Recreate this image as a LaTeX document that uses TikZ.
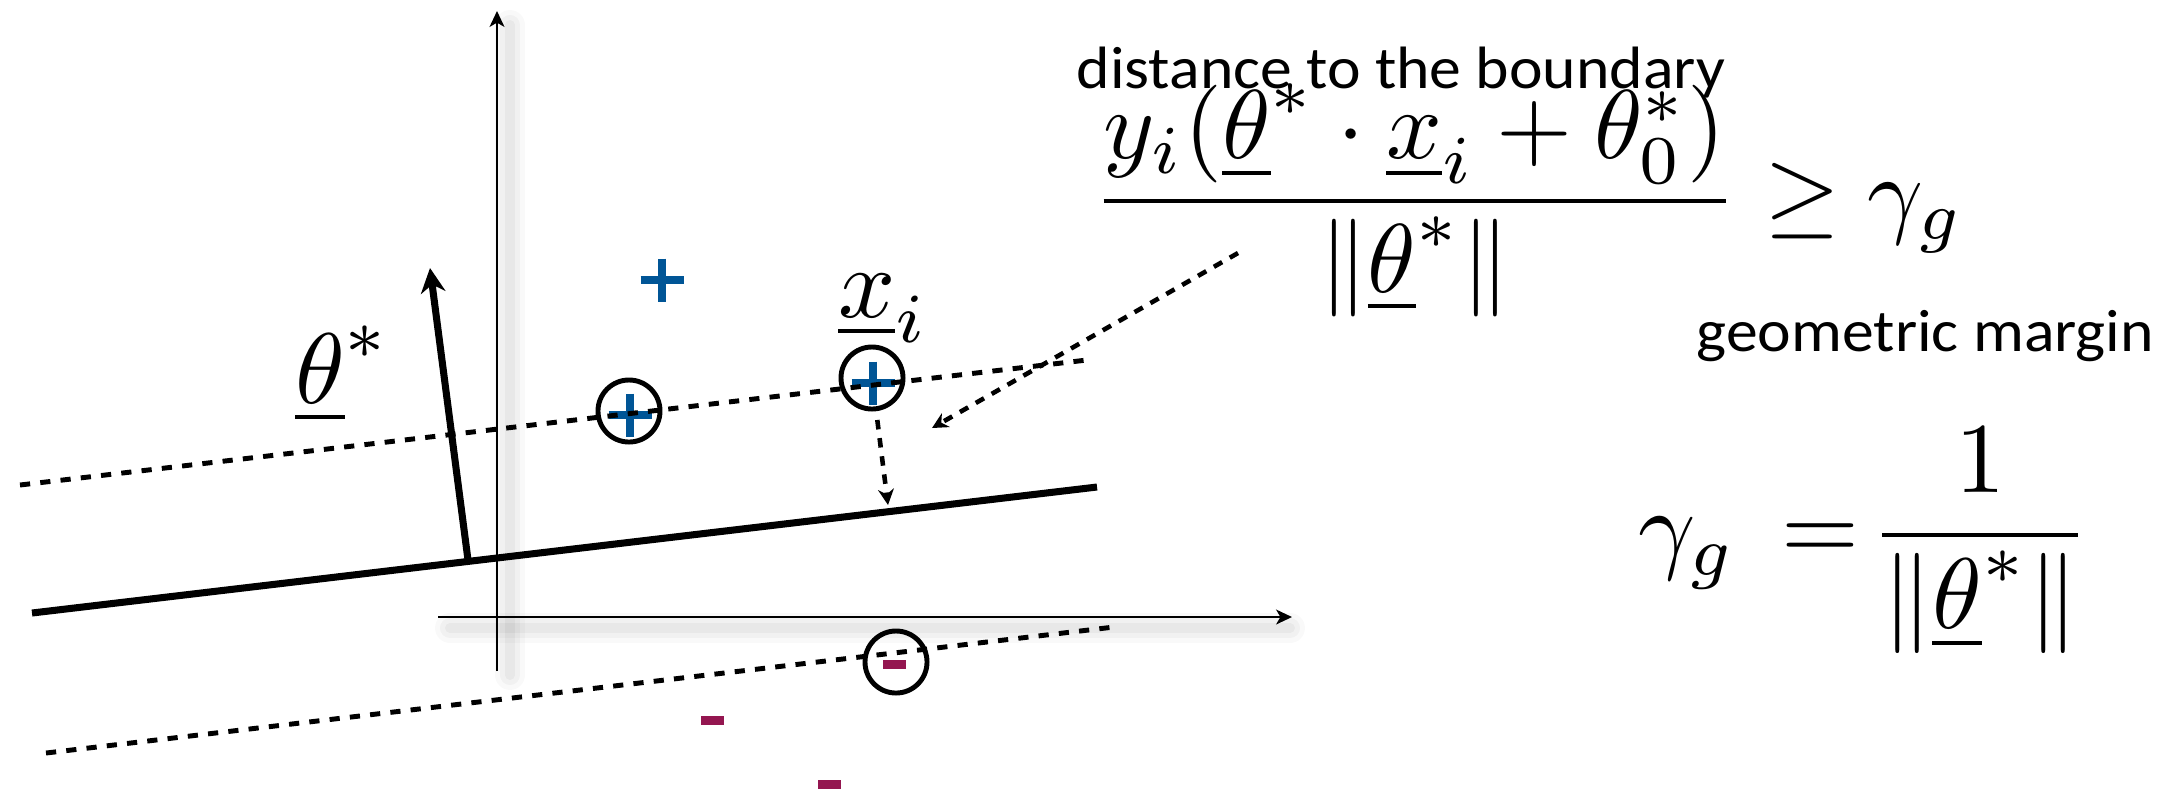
\documentclass[tikz,border=0pt]{standalone}
\usepackage{fontspec}
\newfontfamily\capfont{Carlito}
\usetikzlibrary{arrows.meta}
\definecolor{plusblue}{RGB}{0,85,150}
\definecolor{minusred}{RGB}{148,22,80}
\begin{document}
\begin{tikzpicture}[x=0.01cm,y=-0.01cm,
  axis/.style={line width=0.75pt,-{Stealth[length=4.5pt,width=4.2pt,inset=1.2pt]}},
  bound/.style={line width=2pt},
  margline/.style={line width=1.4pt,dash pattern=on 2.9pt off 2.9pt},
  darrow/.style={line width=1.3pt,dash pattern=on 2.7pt off 2.5pt,-{Stealth[length=4.5pt,width=4.5pt]}},
  ring/.style={circle,draw,line width=1.4pt,minimum size=0.62cm,inner sep=0pt},
  plusmark/.style={plusblue,line width=2.3pt},
  minusmark/.style={rectangle,fill=minusred,draw=none,minimum width=0.23cm,minimum height=0.09cm,inner sep=0pt},
  mathlbl/.style={inner sep=0pt,scale=2.85,font=\fontsize{10}{12}\selectfont},
  caption/.style={inner sep=0pt,xscale=1.065,font=\capfont\fontsize{17}{20}\selectfont}
]
\useasboundingbox (0,0) rectangle (2183,796);

% axis shadows
\foreach \w/\o in {8.5pt/0.025,5.7pt/0.03,2.8pt/0.04}{
  \draw[line width=\w,black,opacity=\o,line cap=round] (510,25) -- (510,675);
  \draw[line width=\w,black,opacity=\o,line cap=round] (450,628) -- (1290,628);
}

% axes
\coordinate (ytop) at (497,11);
\coordinate (ybot) at (497,671);
\coordinate (xleft) at (438,617);
\coordinate (xright) at (1292,617);
\draw[axis] (ybot) -- (ytop);
\draw[axis] (xleft) -- (xright);

% decision boundary and normal vector
\coordinate (bL) at (32,613);
\coordinate (bR) at (1097,487);
\draw[bound] (bL) -- (bR);
\coordinate (tb) at (468,560);
\coordinate (tt) at (430,268);
\draw[bound,-{Stealth[length=7pt,width=7pt]}] (tb) -- (tt);

% plus points
\coordinate (p0) at (662,280);
\coordinate (p1) at (630,415);
\coordinate (p2) at (873,383);
\foreach \p in {p0,p1,p2}{
  \draw[plusmark] (\p) ++(-21.5,0) -- ++(43,0) (\p) ++(0,-21.5) -- ++(0,43);
}

% minus points
\node[minusmark] (m1) at (894,664) {};
\node[minusmark] (m2) at (712,720) {};
\node[minusmark] (m3) at (829,784) {};

% margin lines
\coordinate (uL) at (20,485);
\coordinate (uR) at (1087,360);
\coordinate (lL) at (46,753);
\coordinate (lR) at (1114,627);
\draw[margline] (uL) -- (uR);
\draw[margline] (lL) -- (lR);

% support vectors
\node[ring] (c1) at (629,411) {};
\node[ring] (c2) at (872,378) {};
\node[ring] (c3) at (896,662) {};

% labels
\node[mathlbl,anchor=base west] (tl) at (293,403) {$\underline{\theta}^*$};
\node[mathlbl,anchor=base west] (xl) at (836,317) {$\underline{x}_i$};

% dashed arrows
\coordinate (foot) at (888,505);
\draw[darrow,shorten <=2.5pt] (c2) -- (foot);
\coordinate (ds) at (1238,253);
\coordinate (de) at (932,428);
\draw[darrow] (ds) -- (de);

% formulas
\node[mathlbl,scale=0.975,anchor=base west] (f1) at (1090,225)
  {$\displaystyle\frac{y_i(\underline{\theta}^*\cdot\underline{x}_i+\theta_0^*)}{\|\underline{\theta}^*\|}\geq\gamma_g$};
\node[mathlbl,anchor=base west] (f2) at (1636,560)
  {$\displaystyle\gamma_g\,=\!\frac{1}{\|\underline{\theta}^*\|}$};

% captions
\node[caption,anchor=base west] (t1) at (1076,88) {distance to the boundary};
\node[caption,anchor=base west] (t2) at (1696,351) {geometric margin};
\end{tikzpicture}
\end{document}
